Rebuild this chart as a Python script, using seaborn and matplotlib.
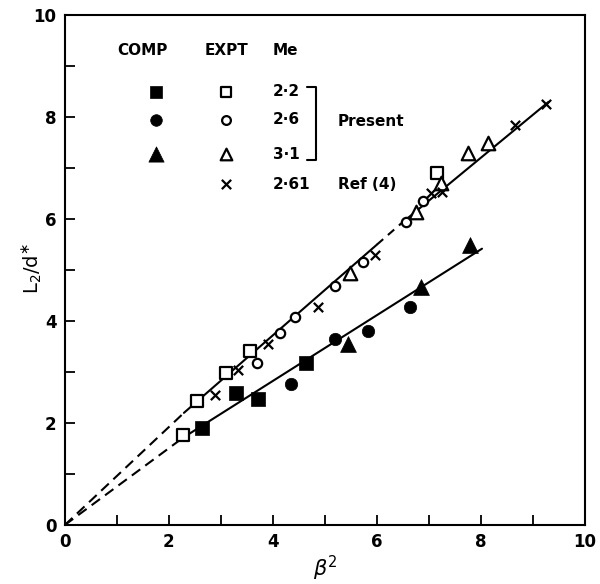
import matplotlib
matplotlib.use("Agg")
import matplotlib.pyplot as plt
import seaborn as sns
import pandas as pd

sns.set_theme(style="white")
plt.rcParams['font.family'] = ['DejaVu Sans']
plt.rcParams.update({"text.color": "black", "axes.labelcolor": "black",
                     "xtick.color": "black", "ytick.color": "black",
                     "axes.edgecolor": "black"})

# ---- data (beta^2, L2/d*) ----
expt_sq_x = [2.27, 2.55, 3.10, 3.56, 7.16]
expt_sq_y = [1.76, 2.43, 2.98, 3.41, 6.90]
expt_ci_x = [3.70, 4.13, 4.42, 5.20, 5.73, 6.55, 6.88]
expt_ci_y = [3.18, 3.76, 4.08, 4.69, 5.16, 5.94, 6.35]
expt_tr_x = [5.49, 6.76, 7.24, 7.75, 8.13]
expt_tr_y = [4.94, 6.14, 6.71, 7.29, 7.49]
ref_x = [2.88, 3.33, 3.90, 4.86, 5.96, 7.03, 7.26, 8.65, 9.25]
ref_y = [2.55, 3.04, 3.55, 4.27, 5.29, 6.51, 6.53, 7.84, 8.25]

comp_sq_x = [2.63, 3.30, 3.71, 4.63]
comp_sq_y = [1.90, 2.59, 2.47, 3.18]
comp_ci_x = [4.34, 5.20, 5.83, 6.63]
comp_ci_y = [2.76, 3.65, 3.80, 4.27]
comp_tr_x = [5.45, 6.84, 7.79]
comp_tr_y = [3.55, 4.67, 5.49]

# fitted lines: dashed extrapolation to origin, solid through data,
# with a short broken stretch on the upper line near beta^2 = 6
upper_dash_x = [0.0, 2.29]
upper_dash_y = [0.0, 2.20]
upper_solid1_x = [2.29, 6.00]
upper_solid1_y = [2.20, 5.50]
upper_gap_x = [6.00, 6.45]
upper_gap_y = [5.50, 5.90]
upper_solid2_x = [6.45, 9.30]
upper_solid2_y = [5.90, 8.30]
lower_dash_x = [0.0, 2.27]
lower_dash_y = [0.0, 1.71]
lower_solid_x = [2.27, 8.02]
lower_solid_y = [1.71, 5.42]

x_ticks = [0, 2, 4, 6, 8, 10]
y_ticks = [0, 2, 4, 6, 8, 10]

legend_headers = ["COMP", "EXPT", "Me"]
legend_me = ["2·2", "2·6", "3·1", "2·61"]

fig = plt.figure(figsize=(6.0, 5.84), dpi=100)
ax = fig.add_axes([0.108, 0.101, 0.867, 0.873])

k = dict(color="black", linewidth=1.5)
sns.lineplot(x=upper_dash_x, y=upper_dash_y, ax=ax, linestyle=(0, (5, 3)), **k)
sns.lineplot(x=upper_solid1_x, y=upper_solid1_y, ax=ax, **k)
sns.lineplot(x=upper_gap_x, y=upper_gap_y, ax=ax, linestyle=(0, (4, 3)), **k)
sns.lineplot(x=upper_solid2_x, y=upper_solid2_y, ax=ax, **k)
sns.lineplot(x=lower_dash_x, y=lower_dash_y, ax=ax, linestyle=(0, (5, 3)), **k)
sns.lineplot(x=lower_solid_x, y=lower_solid_y, ax=ax, **k)

def pts(x, y, marker, size, filled, lw=1.6):
    if filled:
        sns.scatterplot(x=x, y=y, ax=ax, marker=marker, s=size, color="black",
                        edgecolor="black", linewidth=0.5, zorder=5)
    else:
        sns.scatterplot(x=x, y=y, ax=ax, marker=marker, s=size, facecolor="white",
                        edgecolor="black", linewidth=lw, zorder=5)

pts(expt_sq_x, expt_sq_y, "s", 85, False)
pts(expt_ci_x, expt_ci_y, "o", 45, False)
pts(expt_tr_x, expt_tr_y, "^", 95, False)
sns.scatterplot(x=ref_x, y=ref_y, ax=ax, marker="x", s=45, color="black",
                linewidth=1.6, zorder=5)
pts(comp_sq_x, comp_sq_y, "s", 95, True)
pts(comp_ci_x, comp_ci_y, "o", 80, True)
pts(comp_tr_x, comp_tr_y, "^", 130, True)

# ---- text legend ----
fs = 11
ax.text(1.5, 9.3, legend_headers[0], fontsize=fs, fontweight="bold", ha="center", va="center")
ax.text(3.1, 9.3, legend_headers[1], fontsize=fs, fontweight="bold", ha="center", va="center")
ax.text(4.0, 9.3, legend_headers[2], fontsize=fs, fontweight="bold", ha="left", va="center")
rows_y = [8.5, 7.95, 7.27, 6.68]
leg_fx = 1.75
leg_ox = 3.1
pts([leg_fx], [rows_y[0]], "s", 80, True)
pts([leg_fx], [rows_y[1]], "o", 70, True)
pts([leg_fx], [rows_y[2]], "^", 120, True)
pts([leg_ox], [rows_y[0]], "s", 50, False)
pts([leg_ox], [rows_y[1]], "o", 40, False)
pts([leg_ox], [rows_y[2]], "^", 70, False)
sns.scatterplot(x=[leg_ox], y=[rows_y[3]], ax=ax, marker="x", s=45, color="black",
                linewidth=1.6, zorder=5)
for yy, lab in zip(rows_y, legend_me):
    ax.text(4.0, yy, lab, fontsize=fs, fontweight="bold", ha="left", va="center")
ax.plot([4.65, 4.82, 4.82, 4.65], [8.6, 8.6, 7.15, 7.15], color="black", lw=1.5)
ax.text(5.25, 7.92, "Present", fontsize=fs, fontweight="bold", ha="left", va="center")
ax.text(5.25, 6.68, "Ref (4)", fontsize=fs, fontweight="bold", ha="left", va="center")

ax.set_xlim(0, 10)
ax.set_ylim(0, 10)
ax.set_xticks(x_ticks)
ax.set_yticks(y_ticks)
ax.set_xticks(range(1, 10, 2), minor=True)
ax.set_yticks(range(1, 10, 2), minor=True)
ax.set_xticklabels([str(t) for t in x_ticks], fontsize=12, fontweight="bold")
ax.set_yticklabels([str(t) for t in y_ticks], fontsize=12, fontweight="bold")
ax.tick_params(which="both", direction="in", length=7, width=1.3,
               bottom=True, left=True, top=False, right=False, pad=6)
for s in ax.spines.values():
    s.set_color("black")
    s.set_linewidth(1.5)
ax.set_xlabel(r"$\beta^2$", fontsize=15, labelpad=2)
ax.set_ylabel("")
fig.text(0.055, 0.54, r"L$_2$/d$^{\ast}$", fontsize=14, rotation=90,
         ha="center", va="center")
ax.grid(False)

fig.savefig("out.png", dpi=100)
